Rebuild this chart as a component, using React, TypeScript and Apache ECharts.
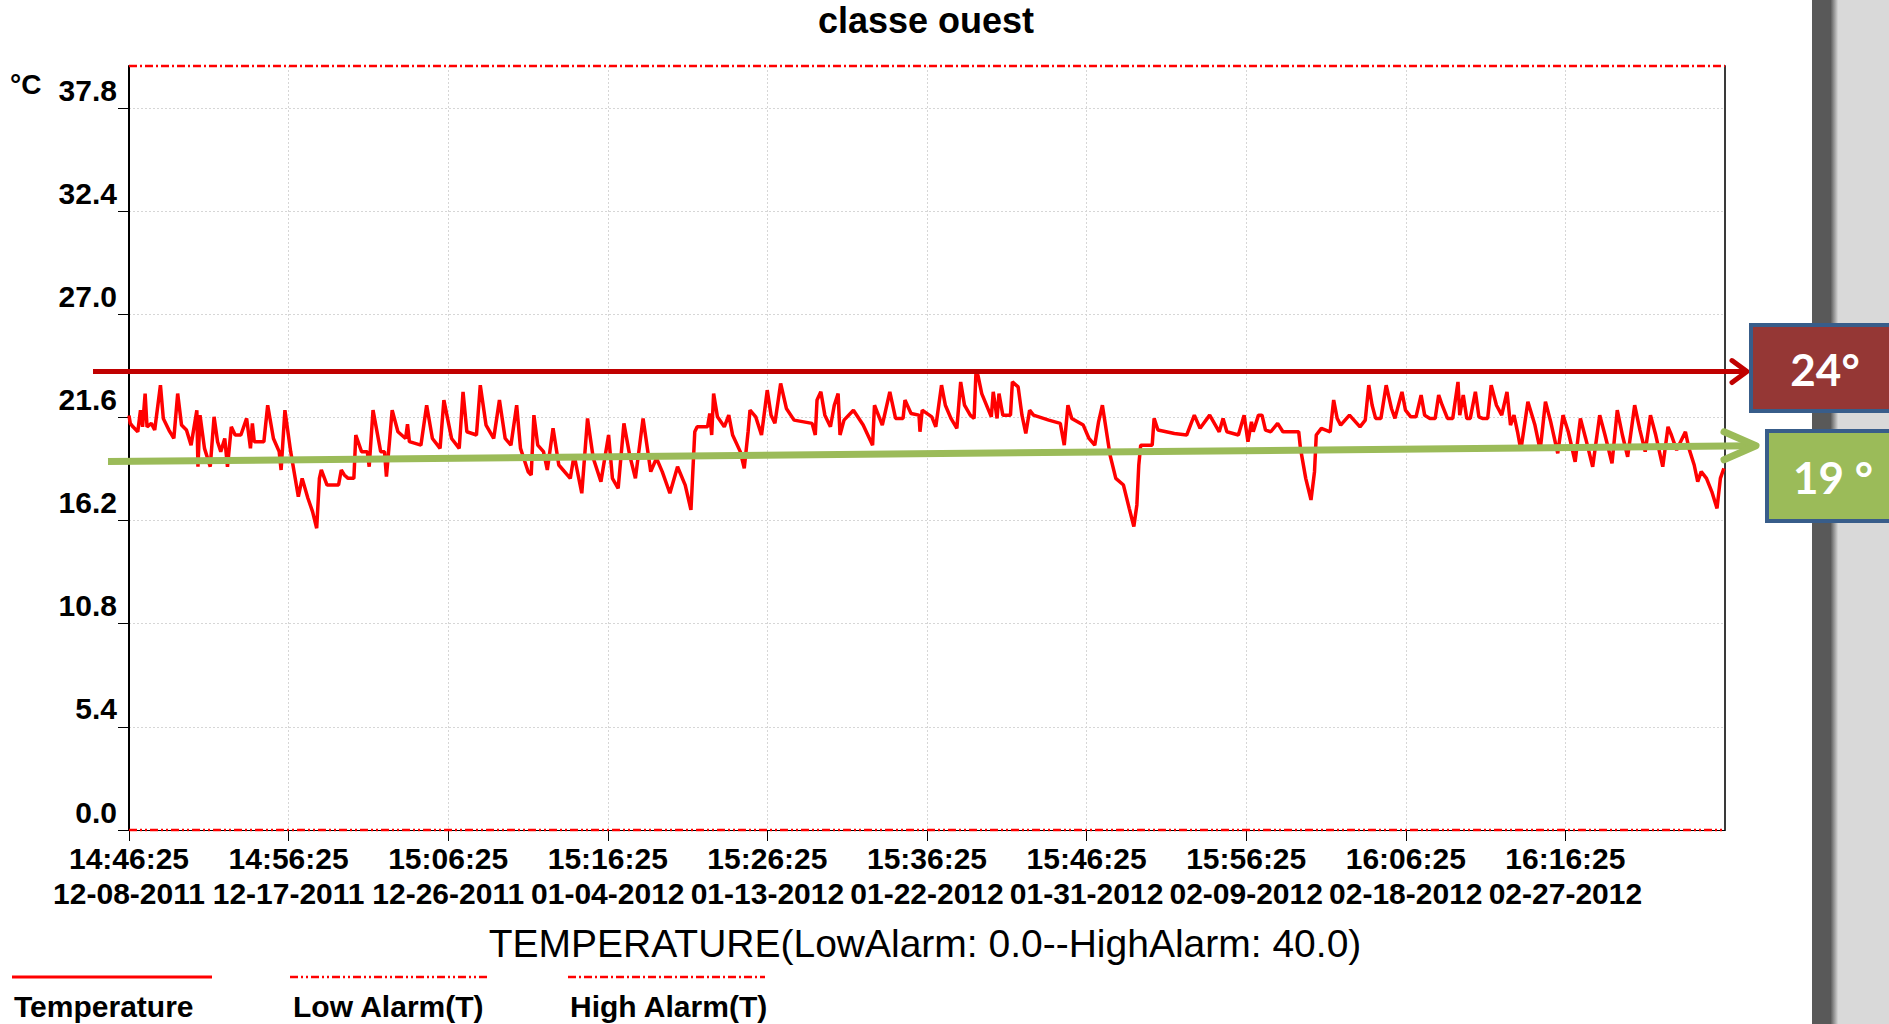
import React, { useEffect, useRef } from 'react';
import * as echarts from 'echarts';

const chartTitle = 'classe ouest';
const axisTitle = 'TEMPERATURE(LowAlarm: 0.0--HighAlarm: 40.0)';
const unitLabel = '°C';
const timeLabels = ['14:46:25', '14:56:25', '15:06:25', '15:16:25', '15:26:25', '15:36:25', '15:46:25', '15:56:25', '16:06:25', '16:16:25'];
const dateLabels = ['12-08-2011', '12-17-2011', '12-26-2011', '01-04-2012', '01-13-2012', '01-22-2012', '01-31-2012', '02-09-2012', '02-18-2012', '02-27-2012'];
const yTicks = [0, 5.4, 10.8, 16.2, 21.6, 27.0, 32.4, 37.8];
const xTicks = [0, 10, 20, 30, 40, 50, 60, 70, 80, 90];
const legendNames = ['Temperature', 'Low Alarm(T)', 'High Alarm(T)'];
const lowAlarm = 0;
const highAlarm = 40;
const redMarkValue = 24;
const redMarkLabel = '24°';
const greenStartValue = 19.3;
const greenEndValue = 20.1;
const greenMarkLabel = '19 °';

// minutes since 14:46:25
const times = [
  0.00, 0.08, 0.25, 0.55, 0.72, 0.85, 1.01, 1.13, 1.40, 1.61, 1.97, 2.15, 2.50, 2.81, 3.05, 3.29, 3.60, 3.89,
  4.25, 4.32, 4.45, 4.73, 5.09, 5.33, 5.55, 5.75, 6.00, 6.17, 6.41, 6.65, 7.01, 7.37, 7.61, 7.73, 7.85, 8.45,
  8.69, 9.05, 9.41, 9.53, 9.77, 10.13, 10.61, 10.85, 11.21, 11.50, 11.76, 11.93, 12.05, 12.41, 13.13, 13.30,
  13.49, 13.73, 14.09, 14.21, 14.57, 14.93, 15.05, 15.29, 15.77, 16.01, 16.13, 16.49, 16.85, 17.33, 17.45, 17.57,
  18.29, 18.65, 19.01, 19.49, 19.73, 20.21, 20.69, 20.93, 21.17, 21.77, 22.01, 22.37, 22.85, 23.21, 23.57, 23.93,
  24.29, 24.53, 25.01, 25.20, 25.37, 25.61, 25.97, 26.21, 26.57, 26.93, 27.65, 27.89, 28.37, 28.73, 29.09, 29.57,
  30.05, 30.29, 30.65, 31.01, 31.37, 31.73, 32.21, 32.69, 33.05, 33.41, 33.89, 34.37, 34.85, 35.21, 35.45, 35.60,
  36.25, 36.39, 36.51, 36.63, 36.87, 37.30, 37.58, 37.82, 38.30, 38.55, 38.79, 38.91, 39.27, 39.63, 39.87, 39.99,
  40.23, 40.47, 40.83, 41.19, 41.67, 42.80, 43.00, 43.11, 43.35, 43.60, 43.95, 44.19, 44.43, 44.55, 44.80, 45.39,
  46.00, 46.59, 46.71, 47.20, 47.67, 48.03, 48.50, 48.62, 49.00, 49.50, 49.56, 49.70, 50.30, 50.55, 50.91, 51.15,
  51.50, 51.87, 52.11, 52.35, 52.71, 52.95, 53.07, 53.19, 53.43, 54.03, 54.15, 54.39, 54.51, 54.75, 55.23, 55.35,
  55.71, 55.95, 56.19, 56.43, 56.67, 57.63, 58.35, 58.60, 58.83, 59.07, 59.79, 60.15, 60.51, 60.75, 60.99, 61.47,
  61.83, 62.31, 62.67, 62.96, 63.15, 63.27, 63.39, 64.11, 64.23, 64.47, 65.50, 66.27, 66.51, 66.75, 67.11, 67.71,
  68.31, 68.55, 68.79, 69.51, 69.87, 70.11, 70.33, 70.44, 70.77, 70.99, 71.21, 71.54, 71.97, 72.30, 73.29, 73.40,
  73.73, 74.06, 74.28, 74.39, 74.71, 75.26, 75.48, 75.70, 75.92, 76.47, 77.13, 77.46, 77.68, 77.89, 78.11, 78.44,
  78.77, 79.10, 79.32, 79.76, 79.98, 80.31, 80.64, 80.96, 81.18, 81.51, 81.84, 82.06, 82.28, 82.61, 82.94, 83.27,
  83.38, 83.60, 83.82, 84.04, 84.36, 84.58, 84.80, 85.13, 85.35, 85.68, 86.01, 86.34, 86.56, 86.78, 87.00, 87.21,
  87.65, 88.09, 88.42, 88.75, 89.08, 89.52, 89.85, 90.18, 90.61, 90.94, 91.27, 91.71, 92.15, 92.48, 92.92, 93.25,
  93.57, 93.90, 94.34, 94.67, 95.00, 95.33, 95.66, 96.10, 96.43, 96.64, 96.97, 97.52, 97.74, 98.07, 98.29, 98.51,
  98.84, 99.17, 99.50, 99.71, 99.93,
];

const temps = [
  21.70, 21.29, 21.11, 20.85, 21.98, 21.11, 22.85, 21.11, 21.29, 20.94, 23.29, 21.55, 20.94, 20.50, 22.85, 21.20, 20.94, 20.15,
  21.98, 19.02, 21.72, 19.98, 19.02, 21.63, 20.33, 19.81, 20.50, 19.02, 21.11, 20.68, 20.68, 21.55, 19.98, 21.29, 20.33, 20.33,
  22.24, 20.50, 19.81, 18.85, 21.98, 19.81, 17.45, 18.41, 17.37, 16.67, 15.80, 18.41, 18.85, 18.06, 18.06, 18.85,
  18.59, 18.41, 18.41, 20.68, 19.81, 19.81, 19.02, 21.98, 19.81, 19.81, 18.50, 21.98, 20.85, 20.50, 21.25, 20.33,
  20.15, 22.24, 20.50, 19.98, 22.51, 20.50, 19.98, 22.94, 20.85, 20.68, 23.29, 21.20, 20.50, 22.51, 20.50, 20.15,
  22.24, 19.98, 18.76, 18.59, 21.72, 20.15, 19.81, 18.85, 21.03, 19.11, 18.41, 19.63, 17.63, 21.55, 19.46, 18.24,
  20.68, 18.41, 17.89, 21.29, 19.63, 18.41, 21.55, 18.76, 19.46, 18.76, 17.63, 19.02, 18.06, 16.76, 20.85, 21.11,
  21.11, 21.81, 20.68, 22.85, 21.63, 21.11, 21.72, 20.68, 19.81, 18.93, 20.85, 21.98, 21.63, 20.68, 22.24, 23.03,
  21.72, 21.29, 23.38, 22.07, 21.46, 21.29, 20.68, 22.51, 22.94, 21.72, 21.11, 22.24, 22.85, 20.68, 21.46, 21.98,
  21.20, 20.15, 22.24, 21.20, 22.94, 21.55, 21.55, 22.51, 21.81, 21.72, 20.85, 21.98, 21.63, 21.11, 23.29, 22.24,
  21.55, 21.03, 23.46, 22.24, 21.72, 21.55, 23.99, 23.81, 22.85, 21.63, 22.94, 21.55, 22.85, 21.72, 21.72, 23.46,
  23.20, 21.72, 20.76, 21.98, 21.72, 21.46, 21.29, 20.15, 22.24, 21.55, 21.20, 20.50, 20.15, 21.37, 22.24, 19.63,
  18.41, 18.06, 16.84, 15.89, 17.02, 19.11, 20.15, 20.15, 21.55, 20.94, 20.76, 20.68, 21.20, 21.72, 21.03, 21.72,
  20.85, 21.55, 20.85, 20.68, 21.72, 20.33, 21.37, 20.85, 21.72, 21.72, 20.94, 20.85, 21.29, 20.85, 20.85, 19.98,
  18.41, 17.28, 18.76, 20.68, 21.03, 20.85, 22.51, 21.55, 21.20, 21.72, 21.11, 21.46, 23.29, 22.24, 21.55, 21.55,
  23.29, 22.07, 21.55, 22.94, 21.98, 21.63, 21.63, 22.77, 21.72, 21.55, 21.55, 22.77, 22.24, 21.55, 21.55, 23.46,
  21.72, 22.77, 21.55, 21.55, 22.94, 21.63, 21.55, 21.55, 23.29, 22.24, 21.72, 22.94, 21.20, 21.72, 20.85, 19.89,
  22.42, 21.20, 19.89, 22.42, 21.37, 19.72, 21.72, 20.85, 19.28, 21.55, 20.50, 19.02, 21.72, 20.68, 19.20, 21.98,
  20.68, 19.54, 22.24, 20.94, 19.81, 21.72, 20.68, 19.02, 21.11, 20.68, 19.89, 20.85, 19.98, 19.11, 18.24, 18.76,
  18.41, 17.72, 16.84, 18.41, 18.93,
];

const FONT = '"Liberation Sans", Arial, sans-serif';
const RED = '#ff0000';

export default function App() {
  const ref = useRef<HTMLDivElement>(null);

  useEffect(() => {
    if (!ref.current) return;
    const chart = echarts.init(ref.current, null, { renderer: 'svg' });
    const tempData = times.map((t, i) => [t, temps[i]]);
    const isMultiple = (v: number, step: number) => Math.abs(v / step - Math.round(v / step)) < 1e-6;

    chart.setOption({
      animation: false,
      backgroundColor: '#ffffff',
      grid: { left: 129, right: 164, top: 66, bottom: 194, containLabel: false, outerBoundsMode: 'none' },
      xAxis: {
        type: 'value',
        min: 0,
        max: 100,
        interval: 5,
        axisLine: { show: true, onZero: false, lineStyle: { color: '#000', width: 1 } },
        axisTick: { show: true, length: 11, customValues: xTicks, lineStyle: { color: '#000', width: 1 } },
        axisLabel: {
          customValues: xTicks,
          formatter: (v: number) => {
            const i = Math.round(v / 10);
            if (isMultiple(v, 10) && i < timeLabels.length) return timeLabels[i] + '\n' + dateLabels[i];
            return '';
          },
          fontFamily: FONT,
          fontSize: 30,
          fontWeight: 'bold',
          color: '#000',
          lineHeight: 35,
          margin: 11,
        },
        splitLine: { show: true, lineStyle: { color: '#d6d6d6', width: 1, type: [2, 2] } },
      },
      yAxis: [
        {
          type: 'value',
          min: 0,
          max: 40,
          interval: 2.7,
          axisLine: { show: true, lineStyle: { color: '#000', width: 2 } },
          axisTick: { show: true, length: 11, customValues: yTicks, lineStyle: { color: '#000', width: 1 } },
          axisLabel: {
            customValues: yTicks,
            formatter: (v: number) => (isMultiple(v, 5.4) && v < 39 ? v.toFixed(1) : ''),
            fontFamily: FONT,
            fontSize: 30,
            fontWeight: 'bold',
            color: '#000',
            verticalAlign: 'bottom',
            padding: [0, 0, 3, 0],
            margin: 12,
          },
          splitLine: { show: true, lineStyle: { color: '#d6d6d6', width: 1, type: [2, 2] } },
        },
        {
          type: 'value',
          position: 'right',
          min: 0,
          max: 40,
          axisLine: { show: true, lineStyle: { color: '#3a3a3a', width: 2 } },
          axisTick: { show: false },
          axisLabel: { show: false },
          splitLine: { show: false },
        },
      ],
      series: [
        {
          name: legendNames[0],
          type: 'line',
          data: tempData,
          symbol: 'none',
          lineStyle: { color: RED, width: 3.5 },
          z: 3,
        },
        {
          name: legendNames[1],
          type: 'line',
          data: [[0, lowAlarm], [100, lowAlarm]],
          symbol: 'none',
          clip: false,
          lineStyle: { color: RED, width: 2.5, type: [8, 3, 2, 3, 2, 3] },
          z: 4,
        },
        {
          name: legendNames[2],
          type: 'line',
          data: [[0, highAlarm], [100, highAlarm]],
          symbol: 'none',
          clip: false,
          lineStyle: { color: RED, width: 2.5, type: [8, 3, 2, 3] },
          z: 4,
        },
      ],
    });

    const px = (x: number, y: number) => chart.convertToPixel({ gridIndex: 0 }, [x, y]) as number[];
    const redY = px(0, redMarkValue)[1];
    const gL = px(0, greenStartValue)[1];
    const gR = px(100, greenEndValue)[1];
    const greenLeftX = 108;
    const greenTipX = 1756;
    const greenAtX = (x: number) => gL + ((gR - gL) * (x - 129)) / (1725 - 129);
    const gStartY = greenAtX(greenLeftX);
    const gTipY = greenAtX(greenTipX);

    chart.setOption({
      graphic: [
        {
          type: 'rect',
          shape: { x: 1812, y: 0, width: 77, height: 1024 },
          style: {
            fill: new echarts.graphic.LinearGradient(0, 0, 1, 0, [
              { offset: 0, color: '#595959' },
              { offset: 0.24, color: '#595959' },
              { offset: 0.34, color: '#d9d9d9' },
              { offset: 1, color: '#d9d9d9' },
            ]),
          },
          z: 1,
        },
        {
          type: 'text',
          x: 926,
          y: 20,
          style: { text: chartTitle, font: `bold 36px ${FONT}`, fill: '#000', textAlign: 'center', textVerticalAlign: 'middle' },
        },
        {
          type: 'text',
          x: 10,
          y: 84,
          style: { text: unitLabel, font: `bold 28px ${FONT}`, fill: '#000', textAlign: 'left', textVerticalAlign: 'middle' },
        },
        {
          type: 'text',
          x: 925,
          y: 943,
          style: { text: axisTitle, font: `39px ${FONT}`, fill: '#000', textAlign: 'center', textVerticalAlign: 'middle' },
        },
        // legend
        { type: 'line', shape: { x1: 12, y1: 977, x2: 212, y2: 977 }, style: { stroke: RED, lineWidth: 3 } },
        { type: 'line', shape: { x1: 290, y1: 977, x2: 487, y2: 977 }, style: { stroke: RED, lineWidth: 2.5, lineDash: [8, 3, 2, 3, 2, 3] } },
        { type: 'line', shape: { x1: 568, y1: 977, x2: 765, y2: 977 }, style: { stroke: RED, lineWidth: 2.5, lineDash: [8, 3, 2, 3] } },
        { type: 'text', x: 14, y: 1006, style: { text: legendNames[0], font: `bold 30px ${FONT}`, fill: '#000', textVerticalAlign: 'middle' } },
        { type: 'text', x: 293, y: 1006, style: { text: legendNames[1], font: `bold 30px ${FONT}`, fill: '#000', textVerticalAlign: 'middle' } },
        { type: 'text', x: 570, y: 1006, style: { text: legendNames[2], font: `bold 30px ${FONT}`, fill: '#000', textVerticalAlign: 'middle' } },
        // red annotation
        { type: 'line', z: 10, shape: { x1: 93, y1: redY, x2: 1745, y2: redY }, style: { stroke: '#c00000', lineWidth: 5 } },
        {
          type: 'polyline', z: 10,
          shape: { points: [[1732, redY - 11], [1747, redY], [1732, redY + 11]] },
          style: { stroke: '#c00000', lineWidth: 5, fill: 'none', lineCap: 'round', lineJoin: 'round' },
        },
        {
          type: 'rect', z: 11,
          shape: { x: 1751, y: 325, width: 200, height: 86 },
          style: { fill: '#953735', stroke: '#385d8a', lineWidth: 4 },
        },
        {
          type: 'text', z: 12, x: 1825, y: 369,
          style: { text: redMarkLabel, font: `bold 44px Lato, "Open Sans", sans-serif`, fill: '#ffffff', textAlign: 'center', textVerticalAlign: 'middle' },
        },
        // green annotation
        {
          type: 'line', z: 10,
          shape: { x1: greenLeftX, y1: gStartY, x2: greenTipX - 4, y2: gTipY },
          style: { stroke: '#9bbb59', lineWidth: 7 },
        },
        {
          type: 'polyline', z: 10,
          shape: { points: [[1724, gTipY - 14], [greenTipX, gTipY], [1724, gTipY + 14]] },
          style: { stroke: '#9bbb59', lineWidth: 7, fill: 'none', lineCap: 'round', lineJoin: 'round' },
        },
        {
          type: 'rect', z: 11,
          shape: { x: 1767, y: 431, width: 200, height: 90 },
          style: { fill: '#9bbb59', stroke: '#385d8a', lineWidth: 4 },
        },
        {
          type: 'text', z: 12, x: 1833, y: 477,
          style: { text: greenMarkLabel, font: `bold 44px Lato, "Open Sans", sans-serif`, fill: '#ffffff', textAlign: 'center', textVerticalAlign: 'middle' },
        },
      ],
    });

    return () => chart.dispose();
  }, []);

  return <div ref={ref} style={{ position: 'absolute', left: 0, top: 0, width: 1889, height: 1024 }} />;
}
